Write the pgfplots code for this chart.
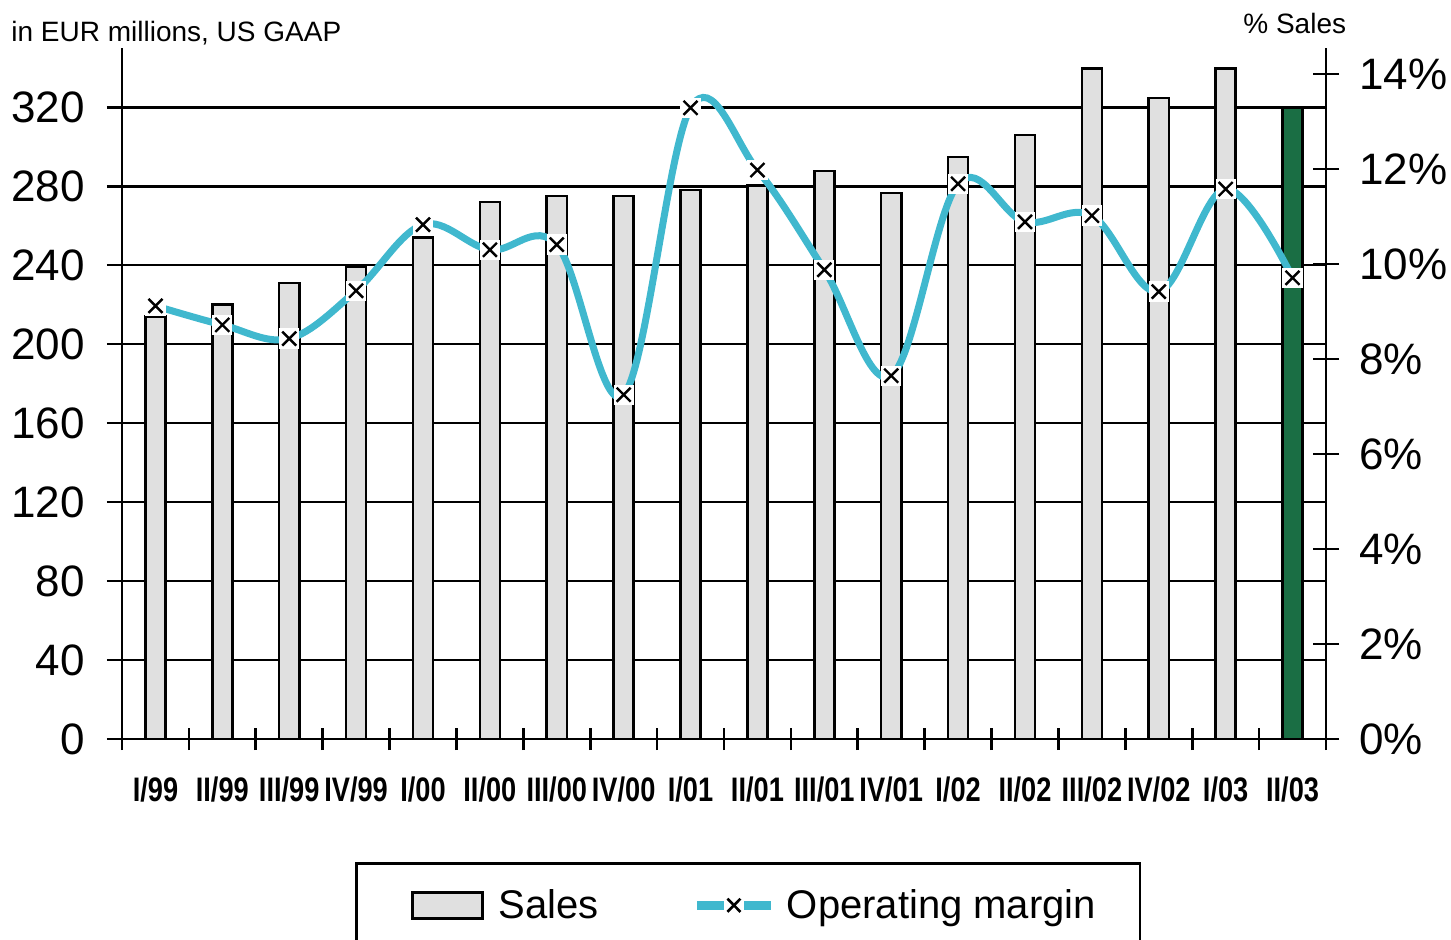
\documentclass[border=0pt]{standalone}
\usepackage{pgfplots}
\pgfplotsset{compat=1.18}
\usepackage{fontspec}
\setmainfont{Liberation Sans}
\newfontfamily\narrowfont[FakeStretch=0.8]{Liberation Sans}
\definecolor{barGray}{RGB}{224,224,224}
\definecolor{barGreen}{RGB}{26,110,68}
\definecolor{lineCyan}{RGB}{64,184,206}
\pgfdeclareplotmark{boxx}{%
  \pgfpathrectangle{\pgfqpoint{-1.45\pgfplotmarksize}{-1.45\pgfplotmarksize}}{\pgfqpoint{2.9\pgfplotmarksize}{2.9\pgfplotmarksize}}%
  \pgfsetfillcolor{white}\pgfusepath{fill}%
  \pgfsetstrokecolor{black}%
  \pgfpathmoveto{\pgfqpoint{-\pgfplotmarksize}{-\pgfplotmarksize}}%
  \pgfpathlineto{\pgfqpoint{\pgfplotmarksize}{\pgfplotmarksize}}%
  \pgfpathmoveto{\pgfqpoint{-\pgfplotmarksize}{\pgfplotmarksize}}%
  \pgfpathlineto{\pgfqpoint{\pgfplotmarksize}{-\pgfplotmarksize}}%
  \pgfusepath{stroke}%
}
\pgfplotstableread{
x sales
0 214
1 220
2 231
3 239
4 254
5 272
6 275
7 275
8 278
9 280.5
10 287.6
11 276.5
12 294.7
13 306
14 339.7
15 324.6
16 339.7
}\salestable
\pgfplotstableread{
x sales
17 320
}\lasttable
\pgfplotstableread{
x margin
0 9.12
1 8.72
2 8.43
3 9.44
4 10.83
5 10.30
6 10.41
7 7.25
8 13.29
9 11.98
10 9.88
11 7.65
12 11.69
13 10.89
14 11.02
15 9.42
16 11.58
17 9.71
}\margintable
\begin{document}
\begin{tikzpicture}
\useasboundingbox (0,0) rectangle (725.5pt,469.5pt);
\begin{axis}[
  at={(61pt,100pt)}, anchor=south west,
  scale only axis, width=602pt, height=345.5pt,
  xmin=-0.5, xmax=17.5, ymin=0, ymax=350,
  axis x line=bottom, axis y line=left,
  axis line style={line width=1.3pt, -},
  ymajorgrids, grid style={black, line width=1.3pt},
  ytick={0,40,...,320},
  xtick={0,...,17},
  xticklabels={I/99,II/99,III/99,IV/99,I/00,II/00,III/00,IV/00,I/01,II/01,III/01,IV/01,I/02,II/02,III/02,IV/02,I/03,II/03},
  major x tick style={draw=none},
  minor xtick={-0.5,0.5,...,17.5},
  tick align=center,
  major tick length=15pt, minor tick length=11pt,
  tick style={black, line width=1.3pt},
  /pgf/number format/assume math mode=true,
  yticklabel style={font=\fontsize{22}{26}\selectfont, xshift=-7.5pt},
  xticklabel style={font=\narrowfont\bfseries\fontsize{17}{20}\selectfont, yshift=-8pt},
]
\addplot[ybar, bar width=0.3, bar shift=0pt, fill=barGray, draw=black, line width=1.3pt] table[x=x, y=sales] {\salestable};
\addplot[ybar, bar width=0.3, bar shift=0pt, fill=barGreen, draw=black, line width=1.3pt] table[x=x, y=sales] {\lasttable};
\end{axis}
\begin{axis}[
  at={(61pt,100pt)}, anchor=south west,
  scale only axis, width=602pt, height=345.5pt,
  xmin=-0.5, xmax=17.5, ymin=0, ymax=14.55,
  axis x line=none, axis y line=right,
  axis line style={line width=1.3pt, -},
  ytick={0,2,...,14},
  yticklabels={0\%,2\%,4\%,6\%,8\%,10\%,12\%,14\%},
  tick align=center, major tick length=13pt,
  tick style={black, line width=1.3pt},
  yticklabel style={font=\fontsize{22}{26}\selectfont, xshift=6.5pt},
  legend columns=2,
  legend style={at={(axis description cs:0.1935,-0.178)}, anchor=north west,
    draw=black, line width=1.3pt, font=\fontsize{20}{24}\selectfont,
    inner xsep=22pt, inner ysep=13pt, /tikz/column sep=0pt,
    nodes={inner sep=0pt}},
]
\addlegendimage{legend image code/.code={\path (-5.5pt,0pt); \draw[fill=barGray, line width=1.3pt] (0pt,-6.5pt) rectangle (35pt,6.5pt); \path (42.5pt,0pt);}}
\addlegendentry{Sales\hspace*{47pt}\null}
\addplot[smooth, tension=0.6, lineCyan, line width=3.5pt, mark=boxx, mark size=3.5pt,
  mark options={line width=1.2pt, solid},
  legend image code/.code={
    \draw[lineCyan, line width=4.5pt] (0pt,0pt) -- (13.5pt,0pt);
    \draw[lineCyan, line width=4.5pt] (23.5pt,0pt) -- (37pt,0pt);
    \draw[black, line width=1.3pt] (15pt,-3.3pt) -- (21.5pt,3.3pt) (15pt,3.3pt) -- (21.5pt,-3.3pt);
    \path (43pt,0pt);}]
  table[x=x, y=margin] {\margintable};
\addlegendentry{Operating margin}
\end{axis}
\node[anchor=base west, font=\fontsize{14}{17}\selectfont, inner sep=0pt] at (5.5pt,448.5pt) {in EUR millions, US GAAP};
\node[anchor=base west, font=\fontsize{14}{17}\selectfont, inner sep=0pt] at (621.5pt,452.75pt) {\% Sales};
\end{tikzpicture}
\end{document}
